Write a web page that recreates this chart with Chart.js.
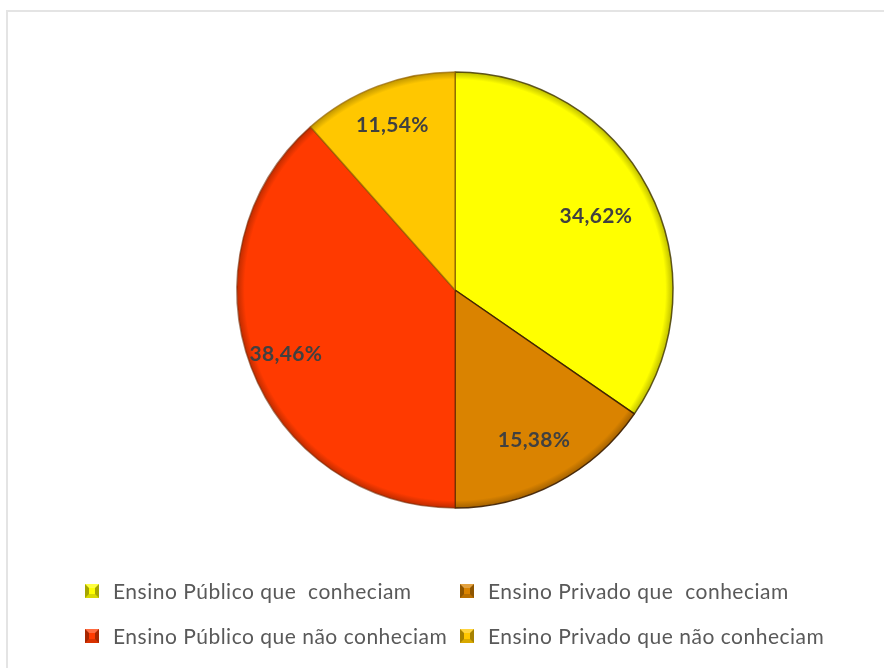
<!DOCTYPE html>
<html>
<head>
<meta charset="utf-8">
<script src="https://cdn.jsdelivr.net/npm/chart.js@4.4.1/dist/chart.umd.min.js"></script>
<style>
  html, body { margin: 0; padding: 0; background: #ffffff; overflow: hidden; }
  #wrap { position: relative; width: 884px; height: 668px; }
  #frame { position: absolute; left: 6px; top: 10px; width: 900px; height: 700px;
           border: 2px solid #e4e4e4; box-sizing: border-box; }
  #pie { position: absolute; left: 0; top: 0; }
  #legend { position: absolute; left: 85px; top: 568px; display: grid;
            grid-template-columns: 375px auto; font: 21px Lato, sans-serif;
            letter-spacing: 0.5px; color: #595959; }
  .item { display: flex; align-items: center; height: 45px; white-space: pre; }
  .sw { width: 6px; height: 6px; border-style: solid; border-width: 4px; margin-right: 14px; flex: none; }
</style>
</head>
<body>
<div id="wrap">
  <div id="frame"></div>
  <canvas id="pie" width="884" height="668"></canvas>
  <div id="legend"></div>
</div>
<script>
// Respondents by school type and whether they knew the subject (%)
const categories = [
  "Ensino Público que  conheciam",
  "Ensino Privado que  conheciam",
  "Ensino Público que não conheciam",
  "Ensino Privado que não conheciam"
];
const shares = [34.62, 15.38, 38.46, 11.54];
const sliceColors = ["#FFFF00", "#DA8300", "#FF3A00", "#FFC700"];

function shade(hex, f) {
  const n = parseInt(hex.slice(1), 16);
  let r = (n >> 16) & 255, g = (n >> 8) & 255, b = n & 255;
  const m = v => Math.max(0, Math.min(255, Math.round(f < 0 ? v * (1 + f) : v + (255 - v) * f)));
  return `rgb(${m(r)},${m(g)},${m(b)})`;
}

const PIE_RADIUS = 218;

// Beveled rim: flat colour that darkens slightly towards the outer edge
function sliceFill(ctx) {
  const base = sliceColors[ctx.dataIndex];
  const area = ctx.chart.chartArea;
  if (!area) return base;
  const cx = (area.left + area.right) / 2, cy = (area.top + area.bottom) / 2;
  const g = ctx.chart.ctx.createRadialGradient(cx, cy, 0, cx, cy, PIE_RADIUS);
  g.addColorStop(0, base);
  g.addColorStop(0.965, base);
  g.addColorStop(1, shade(base, -0.25));
  return g;
}

const sliceLabels = {
  id: 'sliceLabels',
  afterDatasetsDraw(chart, args, opts) {
    const c = chart.ctx;
    const meta = chart.getDatasetMeta(0);
    c.save();
    c.font = opts.font;
    c.fillStyle = opts.color;
    c.textAlign = 'center';
    c.textBaseline = 'middle';
    if ('letterSpacing' in c) c.letterSpacing = opts.spacing;
    meta.data.forEach((arc, i) => {
      const p = arc.getProps(['x', 'y', 'startAngle', 'endAngle', 'outerRadius'], true);
      const mid = (p.startAngle + p.endAngle) / 2;
      const rr = p.outerRadius * opts.distance[i];
      const v = chart.data.datasets[0].data[i];
      const txt = v.toFixed(2).replace('.', ',') + '%';
      c.fillText(txt, p.x + Math.cos(mid) * rr, p.y + Math.sin(mid) * rr);
    });
    c.restore();
  }
};

const chart = new Chart(document.getElementById('pie'), {
  type: 'pie',
  data: {
    labels: categories,
    datasets: [{
      data: shares,
      backgroundColor: sliceFill,
      borderColor: ['rgba(70,60,0,0.85)', 'rgba(60,30,0,0.9)', 'rgba(120,40,0,0.6)', 'rgba(150,100,0,0.7)'],
      borderWidth: 1.5,
      radius: PIE_RADIUS
    }]
  },
  options: {
    responsive: false,
    animation: false,
    events: [],
    layout: { padding: { left: 26, right: 0, top: 0, bottom: 88 } },
    plugins: {
      legend: { display: false },
      tooltip: { enabled: false },
      sliceLabels: {
        font: 'bold 21px Lato, sans-serif',
        color: '#404040',
        spacing: '0.3px',
        distance: [0.73, 0.78, 0.83, 0.81]
      }
    }
  },
  plugins: [sliceLabels]
});

// Legend in two fixed columns, built from the chart's own data
const legendEl = document.getElementById('legend');
chart.data.labels.forEach((lab, i) => {
  const base = sliceColors[i];
  const item = document.createElement('div');
  item.className = 'item';
  const sw = document.createElement('span');
  sw.className = 'sw';
  sw.style.background = base;
  sw.style.borderTopColor = shade(base, 0.25);
  sw.style.borderBottomColor = shade(base, -0.15);
  sw.style.borderLeftColor = shade(base, -0.35);
  sw.style.borderRightColor = shade(base, -0.35);
  const tx = document.createElement('span');
  tx.textContent = lab;
  item.appendChild(sw);
  item.appendChild(tx);
  legendEl.appendChild(item);
});
</script>
</body>
</html>
